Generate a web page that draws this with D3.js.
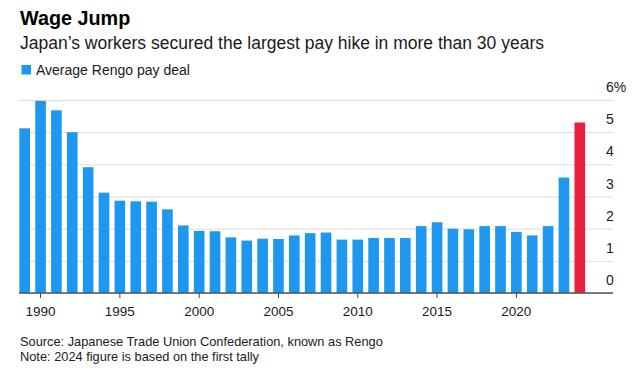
<!DOCTYPE html>
<html>
<head>
<meta charset="utf-8">
<script src="https://cdn.jsdelivr.net/npm/d3@7"></script>
<style>
  html, body { margin: 0; padding: 0; background: #fff; }
  svg { display: block; font-family: "Liberation Sans", Arial, Helvetica, sans-serif; }
</style>
</head>
<body>
<svg id="chart" width="640" height="375"></svg>
<script>
const years = [1989, 1990, 1991, 1992, 1993, 1994, 1995, 1996, 1997, 1998,
  1999, 2000, 2001, 2002, 2003, 2004, 2005, 2006, 2007, 2008,
  2009, 2010, 2011, 2012, 2013, 2014, 2015, 2016, 2017, 2018,
  2019, 2020, 2021, 2022, 2023, 2024];
const payDeal = [5.12, 5.97, 5.68, 5.00, 3.91, 3.12, 2.87, 2.85, 2.84, 2.60,
  2.10, 1.93, 1.92, 1.73, 1.63, 1.69, 1.68, 1.79, 1.86, 1.88,
  1.66, 1.66, 1.71, 1.71, 1.71, 2.08, 2.20, 2.00, 1.98, 2.08,
  2.08, 1.90, 1.79, 2.08, 3.59, 5.30];
const highlightYear = 2024;
const xTickYears = [1990, 1995, 2000, 2005, 2010, 2015, 2020];
const yTicks = [0, 1, 2, 3, 4, 5, 6];

const title = "Wage Jump";
const subtitle = "Japan\u2019s workers secured the largest pay hike in more than 30 years";
const legendLabel = "Average Rengo pay deal";
const sourceText = "Source: Japanese Trade Union Confederation, known as Rengo";
const noteText = "Note: 2024 figure is based on the first tally";

const blue = "#1f97ef";
const red = "#e91e40";

const svg = d3.select("#chart");
const plotLeft = 19, plotRight = 613, plotTop = 100, plotBottom = 293;
const step = 15.86;

const x = d3.scaleBand()
  .domain(years)
  .range([24.7 - step / 2, 24.7 - step / 2 + step * years.length])
  .paddingInner(0.33)
  .paddingOuter(0.165);

const y = d3.scaleLinear().domain([0, 6]).range([plotBottom, plotTop]);

// Titles
svg.append("text").attr("x", 20).attr("y", 25)
  .attr("font-size", 19.8).attr("font-weight", "bold").attr("fill", "#000")
  .text(title);
svg.append("text").attr("x", 20).attr("y", 49)
  .attr("font-size", 17.5).attr("fill", "#1a1a1a")
  .text(subtitle);

// Legend
svg.append("rect").attr("x", 21.5).attr("y", 65).attr("width", 9.5).attr("height", 9.5)
  .attr("fill", blue);
svg.append("text").attr("x", 36).attr("y", 74.5)
  .attr("font-size", 14).attr("fill", "#1a1a1a")
  .text(legendLabel);

// Y grid + labels
const yAxis = d3.axisLeft(y)
  .tickValues(yTicks)
  .tickSize(plotRight - plotLeft)
  .tickFormat(d => d === 6 ? "6%" : d);
const gy = svg.append("g").attr("transform", `translate(${plotRight},0)`).call(yAxis);
gy.select(".domain").remove();
gy.selectAll(".tick line").attr("stroke", "#dcdcdc").attr("stroke-width", 1);
gy.selectAll(".tick text")
  .attr("x", -7).attr("dy", -8.5)
  .attr("text-anchor", "start")
  .attr("font-size", 14).attr("fill", "#1a1a1a")
  .attr("font-family", "Liberation Sans, Arial, sans-serif");

// Bars
svg.append("g").selectAll("rect")
  .data(years)
  .join("rect")
  .attr("x", d => x(d))
  .attr("width", x.bandwidth())
  .attr("y", (d, i) => y(payDeal[i]))
  .attr("height", (d, i) => y(0) - y(payDeal[i]))
  .attr("fill", d => d === highlightYear ? red : blue);

// Baseline
svg.append("line")
  .attr("x1", plotLeft).attr("x2", plotRight)
  .attr("y1", y(0)).attr("y2", y(0))
  .attr("stroke", "#555").attr("stroke-width", 1.3);

// X axis
const xAxis = d3.axisBottom(x)
  .tickValues(xTickYears)
  .tickSize(5)
  .tickPadding(8);
const gx = svg.append("g").attr("transform", `translate(0,${y(0)})`).call(xAxis);
gx.select(".domain").remove();
gx.selectAll(".tick line").attr("stroke", "#444");
gx.selectAll(".tick text")
  .attr("font-size", 13.5).attr("fill", "#1a1a1a")
  .attr("font-family", "Liberation Sans, Arial, sans-serif");

// Footer
svg.append("text").attr("x", 20).attr("y", 346)
  .attr("font-size", 12.8).attr("fill", "#1a1a1a").text(sourceText);
svg.append("text").attr("x", 20).attr("y", 361)
  .attr("font-size", 12.8).attr("fill", "#1a1a1a").text(noteText);
</script>
</body>
</html>
